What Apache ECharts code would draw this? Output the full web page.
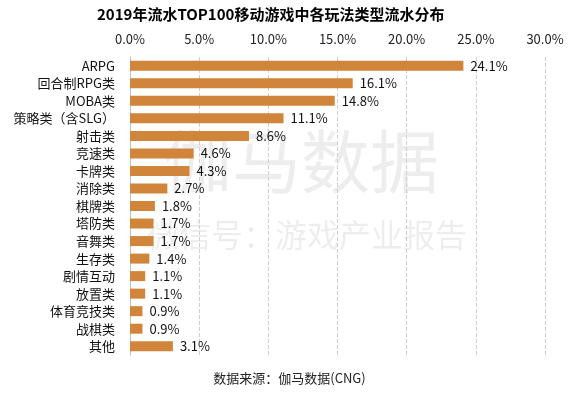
<!DOCTYPE html>
<html>
<head>
<meta charset="utf-8">
<script src="https://cdn.jsdelivr.net/npm/echarts@6/dist/echarts.min.js"></script>
<style>
html,body{margin:0;padding:0;background:#fff;}
#main{width:579px;height:399px;}
</style>
</head>
<body>
<div id="main"></div>
<script>
var categories = ['ARPG','回合制RPG类','MOBA类','策略类（含SLG）','射击类','竞速类','卡牌类','消除类','棋牌类','塔防类','音舞类','生存类','剧情互动','放置类','体育竞技类','战棋类','其他'];
var values = [24.1,16.1,14.8,11.1,8.6,4.6,4.3,2.7,1.8,1.7,1.7,1.4,1.1,1.1,0.9,0.9,3.1];
var xTicks = [0,5,10,15,20,25,30];

var myChart = echarts.init(document.getElementById('main'));
var font = '"Noto Sans CJK SC", "Open Sans", sans-serif';

var option = {
    animation: false,
    textStyle: {fontFamily: font},
    title: {
        text: '2019年流水TOP100移动游戏中各玩法类型流水分布',
        left: 92,
        top: 2,
        textStyle: {fontSize: 15, fontWeight: 'bold', color: '#000', fontFamily: font}
    },
    graphic: [
        {   // 水印
            type: 'text', left: 163, top: 127, z: 0,
            style: {text: '伽马数据', fontSize: 69, fill: 'rgba(0,0,0,0.07)', fontFamily: font}
        },
        {
            type: 'text', left: 147, top: 219, z: 0,
            style: {text: '微信号：游戏产业报告', fontSize: 32, fill: 'rgba(0,0,0,0.07)', fontFamily: font}
        },
        {
            type: 'text', left: 'center', top: 372,
            style: {text: '数据来源：伽马数据(CNG)', fontSize: 13, fill: '#222', fontFamily: font}
        }
    ],
    grid: {left: 130, right: 34, top: 57, bottom: 44},
    xAxis: {
        type: 'value',
        position: 'top',
        min: 0, max: 30, interval: 5,
        axisLine: {show: false},
        axisTick: {show: false},
        axisLabel: {
            color: '#222', fontSize: 13, margin: 11,
            formatter: function (v) { return v.toFixed(1) + '%'; }
        },
        splitLine: {show: true, lineStyle: {type: 'dashed', color: '#cfcfcf'}}
    },
    yAxis: {
        type: 'category',
        inverse: true,
        data: categories,
        axisLine: {show: true, lineStyle: {color: '#bfbfbf'}},
        axisTick: {show: false},
        axisLabel: {color: '#111', fontSize: 13, margin: 15}
    },
    series: [{
        type: 'bar',
        data: values,
        barWidth: 10,
        z: 2,
        itemStyle: {color: '#D1853A'},
        label: {
            show: true, position: 'right', distance: 7,
            color: '#111', fontSize: 13,
            formatter: function (p) { return p.value.toFixed(1) + '%'; }
        }
    }]
};

myChart.setOption(option, true);
</script>
</body>
</html>
